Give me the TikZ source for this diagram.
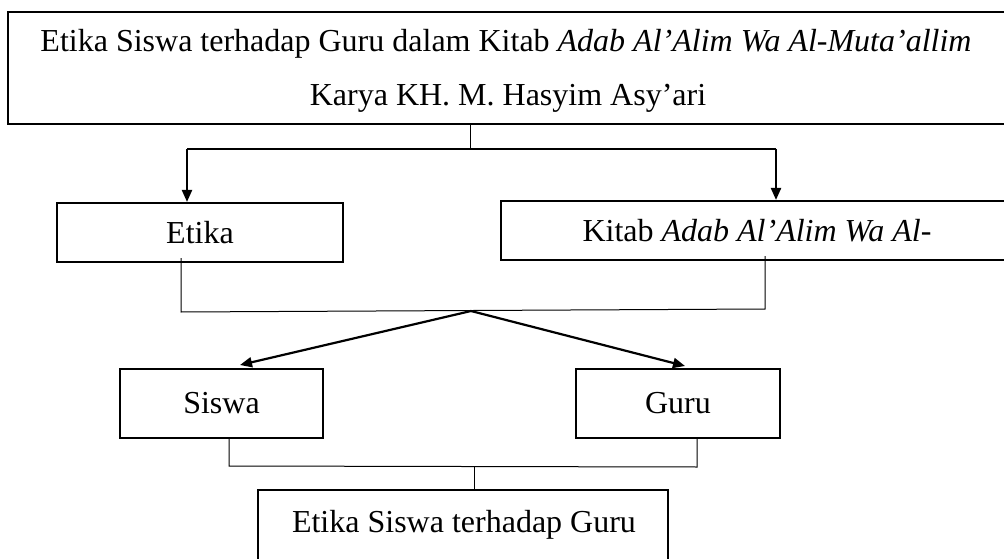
\documentclass[tikz,border=0pt]{standalone}
\usepackage{fontspec}
\setmainfont{Liberation Serif}
\usetikzlibrary{positioning,arrows.meta}

\begin{document}
\begin{tikzpicture}[x=1pt, y=-1pt,
	kotak/.style={shape=rectangle, draw, line width=2.1pt, inner sep=0pt},
	teks/.style={font=\fontsize{32}{38}\selectfont, inner sep=0pt},
	garis/.style={line width=1.0pt},
	panah/.style={-{Triangle[length=12pt,width=10pt]}, line width=2.2pt}]
	\useasboundingbox (0,0) rectangle (1004,559);
	\clip (0,0) rectangle (1004,559);
	
	% kotak judul
	\node(judul) [kotak, minimum width=1010, minimum height=112] at (513,68) {};
	\node(judul1) [teks, anchor=base] at (506,52) {Etika Siswa terhadap Guru dalam Kitab \textit{Adab Al’Alim Wa Al-Muta’allim}};
	\node(judul2) [teks, anchor=base] at (508,106) {Karya KH. M. Hasyim Asy’ari};
	
	\node(etika) [kotak, teks, draw, minimum width=286, minimum height=59] at (200,232.5) {Etika};
	\node(kitab) [kotak, teks, draw, minimum width=512, minimum height=59] at (757,230.5) {Kitab \textit{Adab Al’Alim Wa Al-}};
	\node(siswa) [kotak, teks, draw, minimum width=203, minimum height=69] at (221.5,403.5) {Siswa};
	\node(guru) [kotak, teks, draw, minimum width=204, minimum height=69] at (678,403.5) {Guru};
	\node(hasil) [kotak, minimum width=410, minimum height=85] at (463,532.5) {};
	\node(hasil1) [teks, anchor=base] at (464,532) {Etika Siswa terhadap Guru};
	
	% titik cabang
	\coordinate (cabang) at (470,149);
	\coordinate (cabangkiri) at (187,149);
	\coordinate (cabangkanan) at (776,149);
	\coordinate (temu) at (471,311);
	\coordinate (temukiri) at (181,312);
	\coordinate (temukanan) at (765,309);
	\coordinate (ujungsiswa) at (240,365);
	\coordinate (ujungguru) at (685,366);
	\coordinate (gabung) at (474,467);
	\coordinate (gabungkiri) at (229,466);
	\coordinate (gabungkanan) at (697,467);
	
	\draw [garis] (judul.south -| cabang) -- (cabang);
	\draw [line width=1.5pt] (cabangkiri) -- (cabangkanan);
	\draw [panah] (cabangkiri) -- (etika.north -| cabangkiri);
	\draw [panah] (cabangkanan) -- (kitab.north -| cabangkanan);
	
	\draw [garis] ([yshift=5pt]etika.south -| temukiri) -- (temukiri) -- (temukanan) -- ([yshift=5pt]kitab.south -| temukanan);
	\draw [panah] (temu) -- (ujungsiswa);
	\draw [panah] (temu) -- (ujungguru);
	
	\draw [garis] (siswa.south -| gabungkiri) -- (gabungkiri) -- (gabungkanan) -- (guru.south -| gabungkanan);
	\draw [garis] (gabung) -- (hasil.north -| gabung);
\end{tikzpicture}
\end{document}
